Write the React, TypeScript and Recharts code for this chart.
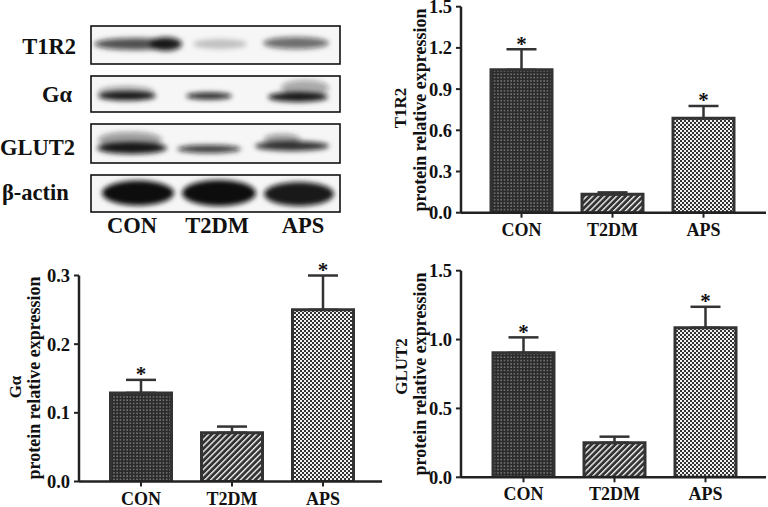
import React from 'react';
import { BarChart, Bar, XAxis, YAxis, ErrorBar, LabelList, Cell } from 'recharts';

// ---- data ----
const groups = ['CON', 'T2DM', 'APS'];
const marks = ['*', '', '*'];

const t1r2Values = [1.04, 0.134, 0.687];
const t1r2Errors = [0.15, 0.014, 0.09];

const gaValues = [0.129, 0.071, 0.25];
const gaErrors = [0.019, 0.009, 0.05];

const glut2Values = [0.904, 0.251, 1.086];
const glut2Errors = [0.112, 0.044, 0.152];

const t1r2Ticks = [0, 0.3, 0.6, 0.9, 1.2, 1.5];
const gaTicks = [0, 0.1, 0.2, 0.3];
const glut2Ticks = [0, 0.5, 1.0, 1.5];

const blotProteins = ['T1R2', 'Gα', 'GLUT2', 'β-actin'];

const patternIds = ['pat-dots', 'pat-hatch', 'pat-check'];
const FONT = "'Liberation Serif', 'Times New Roman', 'DejaVu Serif', serif";
const INK = '#222';
const txt = (size: number): React.CSSProperties => ({ fontFamily: FONT, fontWeight: 700, fontSize: size });

function XTick(props: any) {
  const { x, y, payload } = props;
  return (
    <text x={x} y={y + 16} textAnchor="middle" style={txt(18)} fill="#111">
      {payload.value}
    </text>
  );
}

function YTick(props: any) {
  const { x, y, payload } = props;
  return (
    <text x={x - 2} y={y + 6.5} textAnchor="end" style={txt(18.5)} fill="#111">
      {Number(payload.value).toFixed(1)}
    </text>
  );
}

function AxisTitle(props: any) {
  const { line1, l1x, l1y, l2x, l2y } = props;
  return (
    <g>
      <text x={l1x} y={l1y} transform={`rotate(-90, ${l1x}, ${l1y})`} textAnchor="middle" style={txt(17)} fill="#111">
        {line1}
      </text>
      <text x={l2x} y={l2y} transform={`rotate(-90, ${l2x}, ${l2y})`} textAnchor="middle" style={txt(18)} fill="#111">
        protein relative expression
      </text>
    </g>
  );
}

type ChartProps = {
  left: number;
  top: number;
  width: number;
  height: number;
  marginTop: number;
  yAxisWidth: number;
  xAxisHeight: number;
  padding: { left: number; right: number };
  domain: [number, number];
  ticks: number[];
  values: number[];
  errors: number[];
  title: string;
  l1x: number;
  l1y: number;
  l2x: number;
  l2y: number;
};

function ExprChart(p: ChartProps) {
  const rows = groups.map((g, i) => ({
    group: g,
    value: p.values[i],
    err: [0, p.errors[i]],
    mark: marks[i],
  }));

  const renderMark = (props: any) => {
    const { x, y, width, height, index, value } = props;
    const i = typeof index === 'number' ? index : groups.indexOf(props.name);
    const mark = typeof value === 'string' ? value : marks[i];
    if (!mark) return null;
    const ppu = Number(height) / p.values[i];
    const capY = Number(y) - p.errors[i] * ppu;
    return (
      <text x={Number(x) + Number(width) / 2} y={capY + 1.5} textAnchor="middle" style={txt(21)} fill="#111">
        {mark}
      </text>
    );
  };

  return (
    <div style={{ position: 'absolute', left: p.left, top: p.top }}>
      <BarChart
        width={p.width}
        height={p.height}
        data={rows}
        margin={{ top: p.marginTop, right: 2, left: 0, bottom: 0 }}
        barSize={61}
      >
        <XAxis
          dataKey="group"
          height={p.xAxisHeight}
          padding={p.padding}
          interval={0}
          axisLine={{ stroke: INK, strokeWidth: 2.5 }}
          tickLine={{ stroke: INK, strokeWidth: 2 }}
          tickSize={5}
          tick={<XTick />}
        />
        <YAxis
          type="number"
          width={p.yAxisWidth}
          domain={p.domain}
          ticks={p.ticks}
          interval={0}
          allowDataOverflow
          axisLine={{ stroke: INK, strokeWidth: 2.5 }}
          tickLine={{ stroke: INK, strokeWidth: 2 }}
          tickSize={5}
          tick={<YTick />}
          label={<AxisTitle line1={p.title} l1x={p.l1x} l1y={p.l1y} l2x={p.l2x} l2y={p.l2y} />}
        />
        <Bar dataKey="value" isAnimationActive={false} stroke="#333" strokeWidth={3}>
          {rows.map((r, i) => (
            <Cell key={r.group} fill={`url(#${patternIds[i]})`} />
          ))}
          <ErrorBar dataKey="err" direction="y" width={15} stroke="#333" strokeWidth={2.5} isAnimationActive={false} />
          <LabelList dataKey="mark" content={renderMark} />
        </Bar>
      </BarChart>
    </div>
  );
}

type Band = { cx: number; cy: number; rx: number; ry: number; o: number };

const blotRows: { label: string; y: number; h: number; labelY: number; labelX: number; anchor: string; bands: Band[] }[] = [
  {
    label: blotProteins[0], y: 26, h: 38, labelY: 54, labelX: 76, anchor: 'end',
    bands: [
      { cx: 136, cy: 44, rx: 42, ry: 6, o: 0.72 },
      { cx: 166, cy: 44, rx: 16, ry: 7, o: 0.85 },
      { cx: 220, cy: 44, rx: 27, ry: 5, o: 0.22 },
      { cx: 296, cy: 43, rx: 33, ry: 6, o: 0.6 },
    ],
  },
  {
    label: blotProteins[1], y: 76, h: 36, labelY: 102, labelX: 72, anchor: 'end',
    bands: [
      { cx: 126, cy: 92, rx: 28, ry: 6, o: 0.35 },
      { cx: 127, cy: 96, rx: 29, ry: 4.5, o: 0.95 },
      { cx: 209, cy: 96, rx: 23, ry: 3.5, o: 0.9 },
      { cx: 305, cy: 88, rx: 24, ry: 8, o: 0.35 },
      { cx: 298, cy: 97, rx: 30, ry: 5, o: 0.95 },
    ],
  },
  {
    label: blotProteins[2], y: 124, h: 39, labelY: 155, labelX: 0, anchor: 'start',
    bands: [
      { cx: 130, cy: 140, rx: 32, ry: 8, o: 0.4 },
      { cx: 132, cy: 148, rx: 35, ry: 6, o: 0.95 },
      { cx: 209, cy: 149, rx: 32, ry: 4, o: 0.8 },
      { cx: 282, cy: 139, rx: 18, ry: 5, o: 0.4 },
      { cx: 292, cy: 146, rx: 37, ry: 5, o: 0.85 },
    ],
  },
  {
    label: blotProteins[3], y: 175, h: 37, labelY: 200, labelX: 2, anchor: 'start',
    bands: [
      { cx: 138, cy: 193, rx: 36, ry: 12.5, o: 1 },
      { cx: 219, cy: 193, rx: 37, ry: 13, o: 1 },
      { cx: 299, cy: 194, rx: 35, ry: 12, o: 0.95 },
    ],
  },
];

const laneCenters = [132, 217, 303];

function Blot() {
  return (
    <svg width={384} height={245} style={{ position: 'absolute', left: 0, top: 0 }}>
      <defs>
        <filter id="blur" x="-30%" y="-80%" width="160%" height="260%">
          <feGaussianBlur stdDeviation="2.6" />
        </filter>
        <clipPath id="clipRows">
          {blotRows.map((r) => (
            <rect key={r.label} x={91} y={r.y} width={249} height={r.h} />
          ))}
        </clipPath>
      </defs>
      {blotRows.map((r) => (
        <rect key={r.label} x={91} y={r.y} width={249} height={r.h} fill="#f6f6f6" />
      ))}
      <g clipPath="url(#clipRows)">
        <g filter="url(#blur)">
          {blotRows.map((r) =>
            r.bands.map((b, j) => (
              <ellipse key={r.label + j} cx={b.cx} cy={b.cy} rx={b.rx} ry={b.ry} fill="#111" fillOpacity={b.o} />
            ))
          )}
        </g>
      </g>
      {blotRows.map((r) => (
        <rect key={r.label + 'b'} x={91} y={r.y} width={249} height={r.h} fill="none" stroke="#111" strokeWidth={1.6} />
      ))}
      {blotRows.map((r) => (
        <text key={r.label + 't'} x={r.labelX} y={r.labelY} textAnchor={r.anchor as any} style={txt(22.5)} fill="#111">
          {r.label}
        </text>
      ))}
      {groups.map((g, i) => (
        <text key={g} x={laneCenters[i]} y={233} textAnchor="middle" style={txt(22.5)} fill="#111">
          {g}
        </text>
      ))}
    </svg>
  );
}

function Patterns() {
  return (
    <svg width={0} height={0} style={{ position: 'absolute', left: 0, top: 0 }}>
      <defs>
        <pattern id="pat-dots" width="3.3" height="3.3" patternUnits="userSpaceOnUse">
          <rect width="3.3" height="3.3" fill="#2b2b2b" />
          <rect x="1.2" y="1.2" width="1" height="1" fill="#e0e0e0" />
        </pattern>
        <pattern id="pat-hatch" width="4.2" height="4.2" patternUnits="userSpaceOnUse" patternTransform="rotate(45)">
          <rect width="4.2" height="4.2" fill="#333" />
          <rect x="0" y="0" width="1.4" height="4.2" fill="#eeeeee" />
        </pattern>
        <pattern id="pat-check" width="4" height="4" patternUnits="userSpaceOnUse">
          <rect width="4" height="4" fill="#f2f2f2" />
          <rect x="0" y="0" width="2" height="2" fill="#333" />
          <rect x="2" y="2" width="2" height="2" fill="#333" />
        </pattern>
      </defs>
    </svg>
  );
}

export default function App() {
  return (
    <div style={{ position: 'absolute', left: 0, top: 0, width: 768, height: 507, background: '#fff', overflow: 'hidden' }}>
      <Patterns />
      <Blot />
      <ExprChart
        left={384}
        top={0}
        width={384}
        height={245}
        marginTop={6.7}
        yAxisWidth={77}
        xAxisHeight={32.3}
        padding={{ left: 15, right: 17 }}
        domain={[0, 1.5]}
        ticks={t1r2Ticks}
        values={t1r2Values}
        errors={t1r2Errors}
        title="T1R2"
        l1x={22}
        l1y={108}
        l2x={42}
        l2y={110}
      />
      <ExprChart
        left={0}
        top={250}
        width={384}
        height={257}
        marginTop={25.5}
        yAxisWidth={79}
        xAxisHeight={25.5}
        padding={{ left: 16.5, right: 13.5 }}
        domain={[0, 0.3]}
        ticks={gaTicks}
        values={gaValues}
        errors={gaErrors}
        title="Gα"
        l1x={21}
        l1y={137}
        l2x={40}
        l2y={128}
      />
      <ExprChart
        left={384}
        top={250}
        width={384}
        height={257}
        marginTop={20.7}
        yAxisWidth={77}
        xAxisHeight={29.7}
        padding={{ left: 17, right: 15 }}
        domain={[0, 1.5]}
        ticks={glut2Ticks}
        values={glut2Values}
        errors={glut2Errors}
        title="GLUT2"
        l1x={23}
        l1y={116.5}
        l2x={42}
        l2y={124}
      />
    </div>
  );
}
